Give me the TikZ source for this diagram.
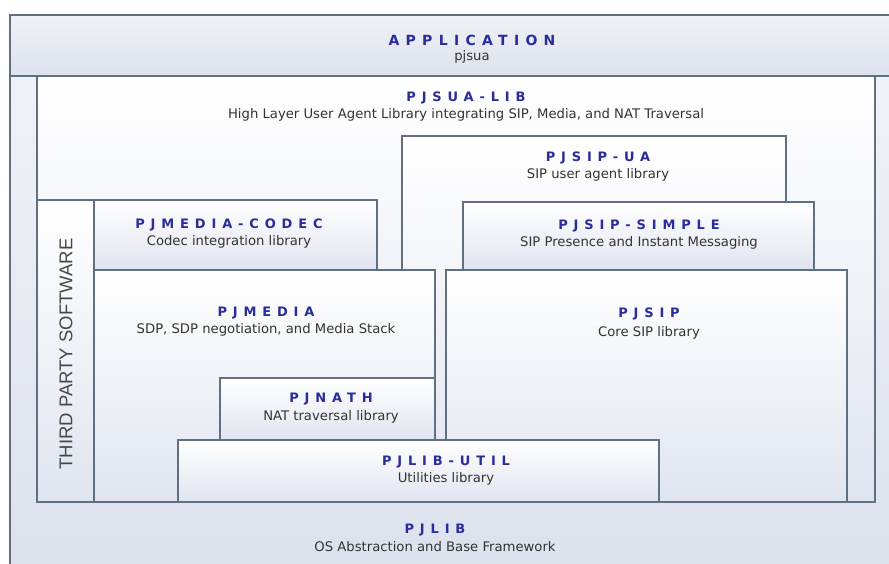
\documentclass[tikz,border=0pt]{standalone}
\usepackage{fontspec}
\setmainfont{DejaVu Sans}
\newfontfamily\titlefont[LetterSpace=45]{DejaVu Sans}
\newfontfamily\sidefont{Liberation Sans}
\usetikzlibrary{fit}
\definecolor{edge}{HTML}{5F7082}
\definecolor{boxbot}{HTML}{E0E4EF}
\definecolor{outerbot}{HTML}{DDE1EC}
\definecolor{titleblue}{HTML}{2A2C9C}
\definecolor{subgray}{HTML}{333333}
\tikzset{
  layer/.style={draw=edge, line width=1.05pt, top color=white, bottom color=boxbot, inner sep=0pt, rectangle},
  outerlayer/.style={draw=edge, line width=1.05pt, top color=white!55!outerbot, bottom color=outerbot, inner sep=0pt, rectangle},
  ttl/.style={text=titleblue, font=\titlefont\bfseries\fontsize{13}{15}\selectfont, inner sep=0pt},
  bigttl/.style={text=titleblue, font=\titlefont\bfseries\fontsize{14}{16}\selectfont, inner sep=0pt},
  sub/.style={text=subgray, font=\fontsize{13.2}{15}\selectfont, inner sep=0pt},
}
\begin{document}
\begin{tikzpicture}[x=1pt,y=-1pt]
\useasboundingbox (0,0) rectangle (889,563);
\clip (0,0) rectangle (889,563);
\fill[white] (0,0) rectangle (889,563);
% boxes
\node[outerlayer, fit={(10,76) (900,575)}] (pjlib) {};
\node[outerlayer, fit={(10,15) (900,76)}] (app) {};
\node[layer, fit={(37,76) (875,502)}] (pjsualib) {};
\node[layer, fit={(402,136) (786,502)}] (pjsipua) {};
\node[layer, fit={(37,200) (94,502)}] (third) {};
\node[layer, fit={(94,200) (377,270)}] (codec) {};
\node[layer, fit={(463,202) (814,270)}] (simple) {};
\node[layer, fit={(94,270) (435,502)}] (pjmedia) {};
\node[layer, fit={(446,270) (847,502)}] (pjsip) {};
\node[layer, fit={(220,378) (435,440)}] (pjnath) {};
\node[layer, fit={(178,440) (659,502)}] (util) {};
% texts
\node[bigttl] (appT) at (472,40) {APPLICATION};
\node[sub] (appS) at (472,57) {pjsua};
\node[ttl] (libT) at (466,98) {PJSUA-LIB};
\node[sub] (libS) at (466,115) {High Layer User Agent Library integrating SIP, Media, and NAT Traversal};
\node[ttl] (uaT) at (598,158) {PJSIP-UA};
\node[sub] (uaS) at (598,175) {SIP user agent library};
\node[ttl] (codecT) at (229,225) {PJMEDIA-CODEC};
\node[sub] (codecS) at (229,242) {Codec integration library};
\node[ttl] (simpleT) at (639,226) {PJSIP-SIMPLE};
\node[sub] (simpleS) at (639,243) {SIP Presence and Instant Messaging};
\node[ttl] (mediaT) at (266,313) {PJMEDIA};
\node[sub] (mediaS) at (266,330) {SDP, SDP negotiation, and Media Stack};
\node[ttl] (sipT) at (649,314) {PJSIP};
\node[sub] (sipS) at (649,333) {Core SIP library};
\node[ttl] (nathT) at (331,399) {PJNATH};
\node[sub] (nathS) at (331,417) {NAT traversal library};
\node[ttl] (utilT) at (446,462) {PJLIB-UTIL};
\node[sub] (utilS) at (446,479) {Utilities library};
\node[ttl] (pjlibT) at (435,530) {PJLIB};
\node[sub] (pjlibS) at (435,547) {OS Abstraction and Base Framework};
\node[text=subgray!90!white, font=\sidefont\fontsize{18.5}{20}\selectfont, rotate=90, inner sep=0pt] (thirdT) at (66,354) {THIRD PARTY SOFTWARE};
\end{tikzpicture}
\end{document}
